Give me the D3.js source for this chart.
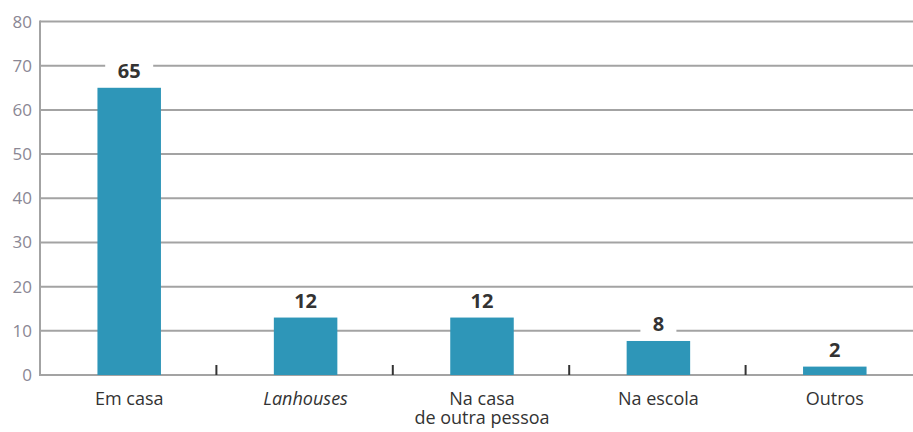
<!DOCTYPE html>
<html>
<head>
<meta charset="utf-8">
<script src="https://cdn.jsdelivr.net/npm/d3@7"></script>
<style>
  body { margin: 0; background: #fff; }
  svg { display: block; font-family: "Open Sans", "Noto Sans", sans-serif; }
</style>
</head>
<body>
<div id="chart"></div>
<script>
'use strict';

// data
const categories = ["Em casa", "Lanhouses", "Na casa\nde outra pessoa", "Na escola", "Outros"];
const labels = [65, 12, 12, 8, 2];          // printed value labels
const barValues = [65, 13, 13, 7.7, 1.9];   // bar heights as drawn
const italicCats = ["Lanhouses"];
const yTicks = [0, 10, 20, 30, 40, 50, 60, 70, 80];

const W = 913, H = 432;
const svg = d3.select("#chart").append("svg")
    .attr("width", W)
    .attr("height", H);

const x = d3.scaleBand()
    .domain(categories)
    .range([41, 923]);

const y = d3.scaleLinear()
    .domain([0, 80])
    .range([375, 21.5]);

const barW = x.bandwidth() * 0.36;

// gridlines
svg.append("g")
    .selectAll("line")
    .data(yTicks)
    .join("line")
    .attr("x1", 40)
    .attr("x2", W)
    .attr("y1", d => y(d))
    .attr("y2", d => y(d))
    .attr("stroke", "#a3a3a3")
    .attr("stroke-width", 2);

// y axis line
svg.append("line")
    .attr("x1", 40).attr("x2", 40)
    .attr("y1", y(80) - 1).attr("y2", y(0) + 1)
    .attr("stroke", "#a3a3a3")
    .attr("stroke-width", 2);

// y tick labels
svg.append("g")
    .selectAll("text")
    .data(yTicks)
    .join("text")
    .attr("x", 32)
    .attr("y", d => y(d) + 6)
    .attr("text-anchor", "end")
    .attr("fill", "#8a8794")
    .style("font-size", "17px")
    .text(d => d);

// category separator ticks
svg.append("g")
    .selectAll("line")
    .data(categories.slice(1))
    .join("line")
    .attr("x1", d => x(d) - 1)
    .attr("x2", d => x(d) - 1)
    .attr("y1", y(0) - 10)
    .attr("y2", y(0))
    .attr("stroke", "#333")
    .attr("stroke-width", 2);

// bars
svg.append("g")
    .selectAll("rect")
    .data(categories)
    .join("rect")
    .attr("x", d => x(d) + x.bandwidth() / 2 - barW / 2)
    .attr("width", barW)
    .attr("y", (d, i) => y(barValues[i]))
    .attr("height", (d, i) => y(0) - y(barValues[i]))
    .attr("fill", "#2e96b8");

// value labels with white background
const lab = svg.append("g")
    .selectAll("g")
    .data(categories)
    .join("g")
    .attr("transform", (d, i) => "translate(" + (x(d) + x.bandwidth() / 2) + "," + (y(barValues[i]) - 10) + ")");

lab.append("rect")
    .attr("x", (d, i) => -(String(labels[i]).length * 6 + 12))
    .attr("width", (d, i) => 2 * (String(labels[i]).length * 6 + 12))
    .attr("y", -19)
    .attr("height", 22)
    .attr("fill", "#fff");

lab.append("text")
    .attr("text-anchor", "middle")
    .attr("fill", "#333")
    .style("font-size", "20px")
    .style("font-weight", "bold")
    .text((d, i) => labels[i]);

// category labels
const xl = svg.append("g")
    .selectAll("text")
    .data(categories)
    .join("text")
    .attr("x", d => x(d) + x.bandwidth() / 2)
    .attr("y", 405)
    .attr("text-anchor", "middle")
    .attr("fill", "#333")
    .style("font-size", "18px")
    .style("font-style", d => italicCats.includes(d) ? "italic" : "normal");

xl.selectAll("tspan")
    .data(d => d.split("\n"))
    .join("tspan")
    .attr("x", function () { return d3.select(this.parentNode).attr("x"); })
    .attr("dy", (d, i) => i === 0 ? 0 : 19)
    .text(d => d);
</script>
</body>
</html>
